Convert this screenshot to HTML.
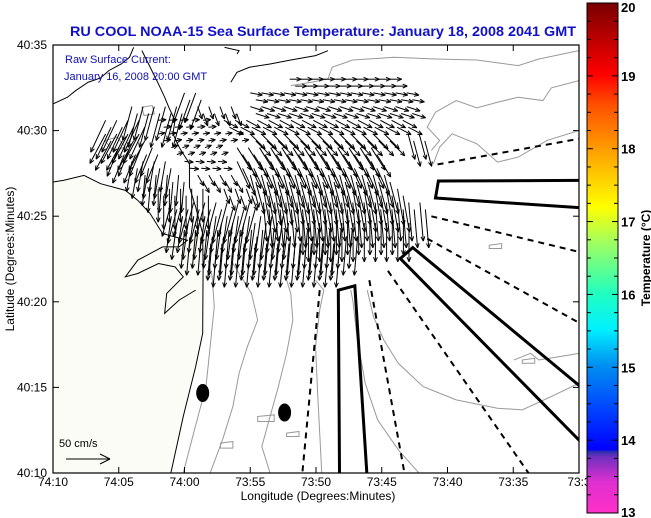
<!DOCTYPE html>
<html><head><meta charset="utf-8"><style>
html,body{margin:0;padding:0;background:#fff;}
svg{display:block;font-family:"Liberation Sans",sans-serif;}
</style></head><body>
<svg id="chart" width="651" height="518" viewBox="0 0 651 518">
  <defs>
    <linearGradient id="cbar" x1="0" y1="1" x2="0" y2="0">
      <stop offset="0" stop-color="#ff30c8"/>
      <stop offset="0.06" stop-color="#e030d0"/>
      <stop offset="0.11" stop-color="#7030c0"/>
      <stop offset="0.12" stop-color="#3030b0"/>
      <stop offset="0.125" stop-color="#0000ff"/>
      <stop offset="0.2" stop-color="#0040ff"/>
      <stop offset="0.29" stop-color="#0090f0"/>
      <stop offset="0.36" stop-color="#00f0ff"/>
      <stop offset="0.43" stop-color="#20ffc0"/>
      <stop offset="0.53" stop-color="#a0ff60"/>
      <stop offset="0.6" stop-color="#ffff00"/>
      <stop offset="0.71" stop-color="#ffa000"/>
      <stop offset="0.8" stop-color="#ff5000"/>
      <stop offset="0.86" stop-color="#ff0000"/>
      <stop offset="1" stop-color="#780000"/>
    </linearGradient>
    <clipPath id="plotclip"><rect x="53" y="45" width="526" height="428"/></clipPath>
  </defs>

  <text x="70" y="36" font-size="14" font-weight="bold" fill="#1010c8" textLength="506" lengthAdjust="spacingAndGlyphs">RU COOL  NOAA-15  Sea Surface Temperature:  January 18, 2008 2041 GMT</text>

  <rect x="53" y="45" width="526" height="428" fill="#fff"/>

  <g clip-path="url(#plotclip)">
    <g transform="translate(53,45) scale(0.4135,0.3326) translate(-125,-133)" fill="none">
      <path fill="#fcfcf6" stroke="none" d="M125,545 L150,540 200,525 240,550 300,570 330,600 360,640 390,700 450,720 470,700 487,700 488,800 487,1000 470,1100 440,1250 410,1420 125,1420 Z"/>
      <g stroke="#999" stroke-width="1">
        <path vector-effect="non-scaling-stroke" d="M1397,150 L1300,175 1250,195 1150,178 1050,175 950,170 850,178 800,200 790,235 750,245 700,255"/>
        <path vector-effect="non-scaling-stroke" d="M1397,240 L1330,262 1310,300 1250,290 1200,305 1150,322 1100,300 1050,335 1030,380 1060,420 1040,450"/>
        <path vector-effect="non-scaling-stroke" d="M1397,390 L1320,420 1250,470 1200,485 1150,430 1090,400 1060,440 1045,490"/>
        <path vector-effect="non-scaling-stroke" d="M1397,1150 L1330,1190 1260,1230 1200,1225 1100,1200 1020,1160 960,1090 925,1020 900,950 885,870"/>
        <path vector-effect="non-scaling-stroke" d="M1397,1060 L1350,1070 1300,1080 1280,1060 1240,1080"/>
        <path vector-effect="non-scaling-stroke" d="M1010,1420 L960,1350 910,1260 880,1150 860,1010 850,900 845,870"/>
        <path vector-effect="non-scaling-stroke" d="M775,1420 L770,1300 765,1180 760,1040 770,930 780,870 760,840"/>
        <path vector-effect="non-scaling-stroke" d="M440,1420 L465,1300 495,1160 505,1040 515,920 510,830 500,780"/>
        <path vector-effect="non-scaling-stroke" d="M505,1420 L535,1320 560,1220 575,1120 595,1040 620,960 605,880 580,830 560,790"/>
        <path vector-effect="non-scaling-stroke" d="M650,1420 L630,1340 650,1250 670,1160 690,1060 705,960 700,880 690,840"/>
        <path vector-effect="non-scaling-stroke" d="M340,320 L365,315 370,340 345,345 Z"/>
        <path vector-effect="non-scaling-stroke" d="M250,420 L280,410 300,440 270,450 Z"/>
        <path vector-effect="non-scaling-stroke" d="M1180,735 L1210,730 1210,745 1180,745 Z"/>
        <path vector-effect="non-scaling-stroke" d="M1260,1080 L1290,1075 1290,1090 1260,1090 Z"/>
        <path vector-effect="non-scaling-stroke" d="M620,1250 L660,1245 660,1265 620,1265 Z"/>
        <path vector-effect="non-scaling-stroke" d="M530,1330 L560,1325 560,1345 530,1345 Z"/>
        <path vector-effect="non-scaling-stroke" d="M690,1300 L720,1295 720,1310 690,1310 Z"/>
      </g>
      <g stroke="#000" stroke-width="1">
        <path vector-effect="non-scaling-stroke" d="M410,1420 L440,1250 470,1100 487,1000 488,800 487,700 470,620 455,560 455,490 430,440 415,400 420,360 405,320 395,290 380,250 360,200 340,150"/>
        <path vector-effect="non-scaling-stroke" d="M125,310 L160,290 180,270 210,245 240,232 260,210 290,190 310,170 320,140"/>
        <path vector-effect="non-scaling-stroke" d="M555,245 L570,215 600,200 650,190 700,178 760,165 790,150"/>
        <path vector-effect="non-scaling-stroke" d="M540,140 L575,150 570,160"/>
        <path vector-effect="non-scaling-stroke" d="M125,545 L150,540 200,525 240,550 300,570 330,600 360,640 390,700 450,720 430,740 390,740 330,780 300,830 330,820 380,790 420,800 440,830 400,880 395,940 430,900 470,870"/>
      </g>
      <g stroke="#000" stroke-width="2" stroke-dasharray="6,5">
        <path vector-effect="non-scaling-stroke" d="M1055,492 L1397,415"/>
        <path vector-effect="non-scaling-stroke" d="M1040,648 L1397,755"/>
        <path vector-effect="non-scaling-stroke" d="M1030,715 L1397,968"/>
        <path vector-effect="non-scaling-stroke" d="M935,812 L1275,1420"/>
        <path vector-effect="non-scaling-stroke" d="M890,840 L975,1420"/>
        <path vector-effect="non-scaling-stroke" d="M770,870 L728,1420"/>
      </g>
      <g stroke="#000" stroke-width="3">
        <path vector-effect="non-scaling-stroke" d="M1420,540 L1057,542 1050,593 1420,624"/>
        <path vector-effect="non-scaling-stroke" d="M1420,1180 L995,742 965,775 1420,1350"/>
        <path vector-effect="non-scaling-stroke" d="M818,1440 L815,870 855,857 885,1440"/>
      </g>
    </g>
    <ellipse cx="202.7" cy="393" rx="6.5" ry="9" fill="#000"/>
    <ellipse cx="284.6" cy="412.5" rx="6.5" ry="9" fill="#000"/>
    <g id="arrows" stroke="#000" stroke-width="1" fill="none"></g>
  </g>

  <rect x="53" y="45" width="526" height="428" fill="none" stroke="#000" stroke-width="1.2"/>
  <g id="axes" font-size="12" fill="#000"></g>

  <text x="65" y="63" font-size="11" fill="#1010b0">Raw Surface Current:</text>
  <text x="64" y="80" font-size="11" fill="#1010b0">January 16, 2008 20:00 GMT</text>

  <text x="59" y="447" font-size="11" fill="#000">50 cm/s</text>
  <g stroke="#000" stroke-width="1">
    <line x1="66" y1="459" x2="110" y2="459"/><line x1="110" y1="459" x2="100" y2="454"/><line x1="110" y1="459" x2="100" y2="464"/>
  </g>

  <text x="318" y="500" text-anchor="middle" font-size="12">Longitude (Degrees:Minutes)</text>
  <text transform="translate(14,259) rotate(-90)" text-anchor="middle" font-size="12">Latitude (Degrees:Minutes)</text>

  <rect x="587" y="3" width="31" height="510" fill="url(#cbar)" stroke="#000" stroke-width="1"/>
  <g id="cbticks"></g>
  <text transform="translate(650,258) rotate(-90)" text-anchor="middle" font-size="12" font-weight="bold">Temperature (°C)</text>
</svg>

<script>
// Axis data
const xTickLabels = ["74:10","74:05","74:00","73:55","73:50","73:45","73:40","73:35","73:3"];
const xTickMinutes = [70,65,60,55,50,45,40,35,30];
const yTickLabels = ["40:35","40:30","40:25","40:20","40:15","40:10"];
const yTickMinutes = [35,30,25,20,15,10];
const cbTickValues = [13,14,15,16,17,18,19,20];

// Current vector segments (per row: latitude minute, lon span in minutes W of 73:00, direction deg, speed cm/s)
const segLat   = [33.0,32.2,32.2,31.4,31.4,31.4,30.6,30.6,30.6,29.8,29.8,29.8,29.8,29.0,29.0,29.0,28.2,28.2,28.2,27.4,27.4,27.4,26.6,26.6,26.6,25.8,25.8,25.0,25.0,24.2,23.4];
const segLonA  = [52,  55,  60,  64,  59,  55,  66,  62,  57,  66,  62,  55,  43,  65,  61,  56,  64,  60,  56,  63,  59,  55,  62,  57,  54,  61,  54,  61,  51,  60,  58];
const segLonB  = [44,  43,  58.5,60,  56,  43,  63,  58,  43,  63,  56,  44,  42,  62,  57,  45,  61,  57,  45,  60,  56,  44,  58,  55,  43,  55,  42,  52,  43,  47,  48];
const segDir   = [90,  100, 200, 195, 160, 108, 205, 85,  118, 208, 80,  135, 165, 202, 70,  148, 190, 95,  155, 185, 150, 165, 180, 160, 170, 195, 175, 188, 180, 185, 185];
const segSpeed = [13,  14,  36,  40,  15,  16,  40,  9,   18,  38,  8,   24,  30,  35,  8,   30,  35,  10,  34,  35,  14,  38,  38,  18,  42,  40,  44,  42,  44,  44,  42];

const NS="http://www.w3.org/2000/svg";
const X0=53,X1=579,Y0=45,Y1=473;
function xScale(lonMin){return X0+(70-lonMin)*(X1-X0)/40;}
function yScale(latMin){return Y0+(35-latMin)*(Y1-Y0)/25;}
const pxPerCm=44/50;
function mk(tag,attrs,parent){const e=document.createElementNS(NS,tag);for(const k in attrs)e.setAttribute(k,attrs[k]);parent.appendChild(e);return e;}

const arrows=document.getElementById('arrows');
for(let s=0;s<segLat.length;s++){
  const step=0.85;
  for(let lon=segLonA[s];lon>=segLonB[s]-0.01;lon-=step){
    for(let sub=0;sub<2;sub++){
      const lat=segLat[s]-sub*0.4;
      const x=xScale(lon-sub*0.42),y=yScale(lat);
      const a=segDir[s]*Math.PI/180,L=segSpeed[s]*pxPerCm;
      const x2=x+Math.sin(a)*L,y2=y-Math.cos(a)*L;
      const g=mk('g',{},arrows);
      
      
      mk('line',{x1:x.toFixed(1),y1:y.toFixed(1),x2:x2.toFixed(1),y2:y2.toFixed(1)},g);
      const h=5;
      for(const d of [-0.4,0.4]){
        const b=a+Math.PI+d;
        mk('line',{x1:x2.toFixed(1),y1:y2.toFixed(1),x2:(x2+Math.sin(b)*h).toFixed(1),y2:(y2-Math.cos(b)*h).toFixed(1)},g);
      }
    }
  }
}

const axes=document.getElementById('axes');
xTickMinutes.forEach((m,i)=>{
  const x=xScale(m);
  const t=mk('line',{x1:x,y1:Y1,x2:x,y2:Y1-6,stroke:'#000'},axes);
  
  
  mk('line',{x1:x,y1:Y0,x2:x,y2:Y0+6,stroke:'#000'},axes);
  const lb=mk('text',{x:x,y:486,'text-anchor':'middle'},axes);
  
  
  lb.textContent=xTickLabels[i];
});
yTickMinutes.forEach((m,i)=>{
  const y=yScale(m);
  const t=mk('line',{x1:X0,y1:y,x2:X0+6,y2:y,stroke:'#000'},axes);
  
  
  mk('line',{x1:X1,y1:y,x2:X1-6,y2:y,stroke:'#000'},axes);
  const lb=mk('text',{x:47,y:y+4,'text-anchor':'end'},axes);
  
  
  lb.textContent=yTickLabels[i];
});

const cb=document.getElementById('cbticks');
function cbY(v){return 513-(v-13)*510/7;}
for(let v=13;v<=20.001;v+=0.25){
  const y=cbY(v),major=Math.abs(v-Math.round(v))<0.01;
  mk('line',{x1:618,y1:y,x2:major?612:614,y2:y,stroke:'#000'},cb);
  mk('line',{x1:587,y1:y,x2:major?593:591,y2:y,stroke:'#000'},cb);
}
cbTickValues.forEach(v=>{
  const t=mk('text',{x:621,y:Math.min(517,Math.max(12,cbY(v)+5)),'font-size':'13','font-weight':'bold'},cb);
  
  
  t.textContent=v;
});
</script>
</body></html>
